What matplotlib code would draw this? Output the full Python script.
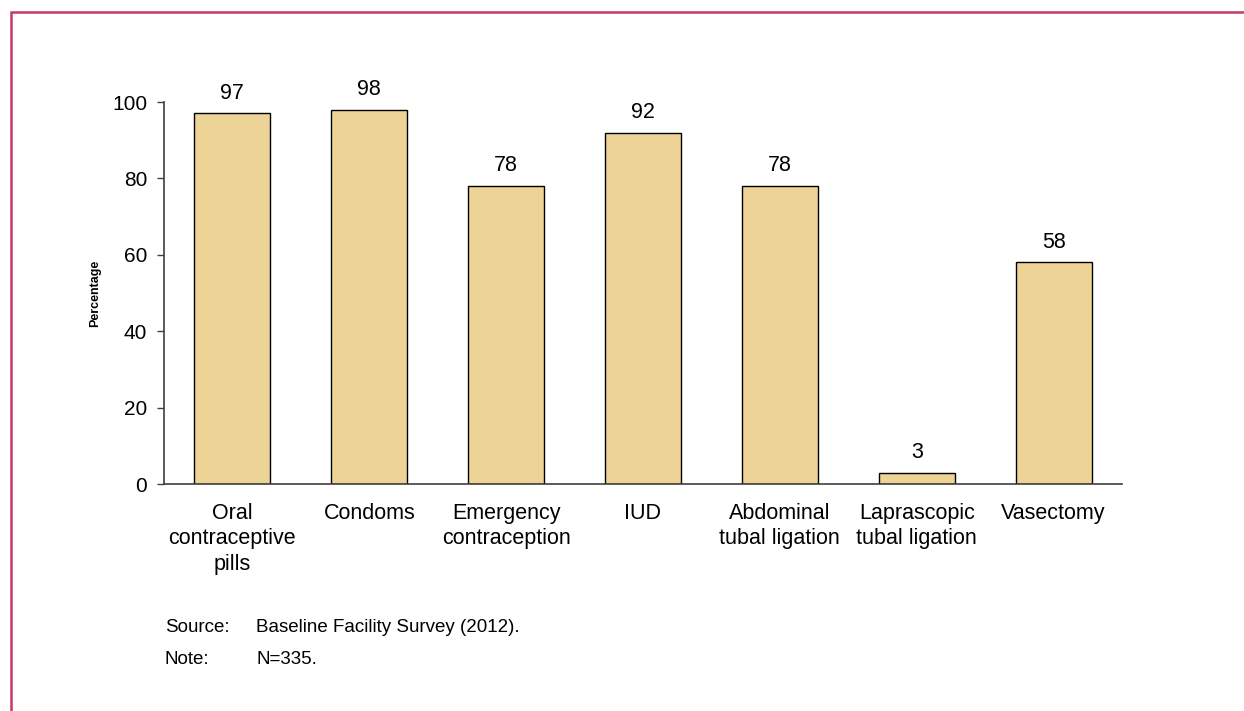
import matplotlib
matplotlib.use("Agg")
import matplotlib.pyplot as plt
from matplotlib.patches import Rectangle

plt.rcParams['font.family'] = ['Liberation Sans', 'DejaVu Sans']

categories = ["Oral\ncontraceptive\npills", "Condoms", "Emergency\ncontraception",
              "IUD", "Abdominal\ntubal ligation", "Laprascopic\ntubal ligation", "Vasectomy"]
values = [97, 98, 78, 92, 78, 3, 58]
yticks = [0, 20, 40, 60, 80, 100]

W, H = 1244, 711
fig = plt.figure(figsize=(W / 100, H / 100), dpi=100)

# Frame around the exhibit (open to the right and bottom edges)
fig.patches.append(Rectangle((11 / W, -0.05), 1.1, 1 - 12 / H + 0.05,
                             transform=fig.transFigure, fill=False,
                             edgecolor='#C83A62', linewidth=1.8))

ax = fig.add_axes([164 / W, 1 - 484 / H, (1122 - 164) / W, (484 - 102) / H])
x = range(len(categories))
bars = ax.bar(x, values, width=0.555, color='#EDD395', edgecolor='black', linewidth=1.0)
for b, v in zip(bars, values):
    ax.annotate(f"{v}", (b.get_x() + b.get_width() / 2, v), xytext=(0, 7),
                textcoords='offset points', ha='center', va='bottom', fontsize=15.5)

ax.set_xlim(-0.5, len(categories) - 0.5)
ax.set_ylim(0, 100)
ax.set_yticks(yticks)
ax.set_xticks(list(x))
ax.set_xticklabels(categories, fontsize=15.5, linespacing=1.28)
ax.tick_params(axis='x', length=0, pad=13.5)
ax.tick_params(axis='y', length=5, width=1, pad=7, labelsize=15, color='#404040')
for s in ['top', 'right']:
    ax.spines[s].set_visible(False)
for s in ['left', 'bottom']:
    ax.spines[s].set_color('#404040')
    ax.spines[s].set_linewidth(1.2)

fig.text(95 / W, 1 - 293 / H, "Percentage", rotation=90, ha='center', va='center',
         fontsize=9, fontweight='bold')

fig.text(165 / W, 1 - 628 / H, "Source:", ha='left', va='center', fontsize=13.5)
fig.text(256 / W, 1 - 628 / H, "Baseline Facility Survey (2012).", ha='left', va='center', fontsize=13.5)
fig.text(165 / W, 1 - 660 / H, "Note:", ha='left', va='center', fontsize=13.5)
fig.text(256 / W, 1 - 660 / H, "N=335.", ha='left', va='center', fontsize=13.5)

fig.savefig("out.png", dpi=100)
